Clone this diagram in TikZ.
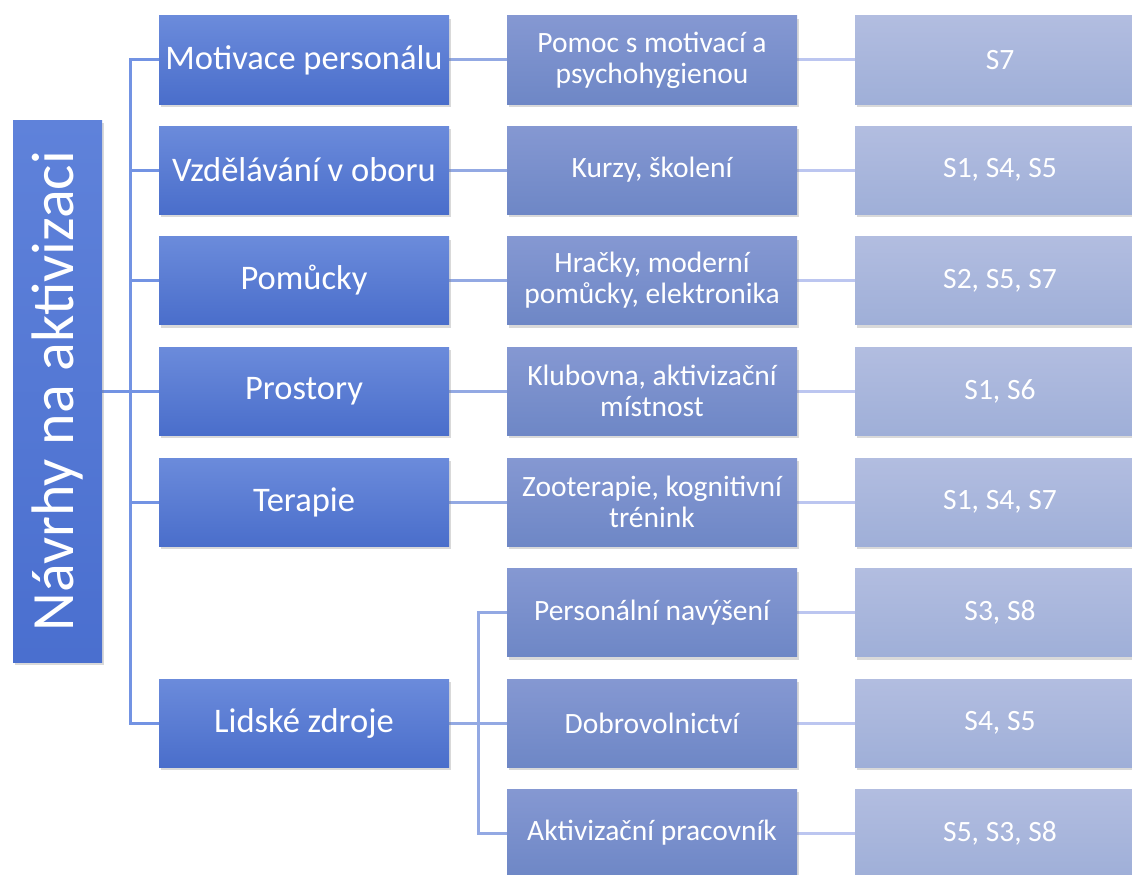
\documentclass[tikz,border=0pt]{standalone}
\usepackage{fontspec}
\setmainfont{Carlito}
\usetikzlibrary{shadows,backgrounds}

\definecolor{rootblue}{HTML}{4A6FCF}
\definecolor{roottop}{HTML}{5F82DA}
\definecolor{cattop}{HTML}{6B8BDB}
\definecolor{catbot}{HTML}{4A6ECB}
\definecolor{subtop}{HTML}{8598D2}
\definecolor{subbot}{HTML}{6E87C6}
\definecolor{reftop}{HTML}{B2BDE0}
\definecolor{refbot}{HTML}{9FAFD8}
\definecolor{trunkline}{HTML}{7393E3}
\definecolor{branchline}{HTML}{93A9E3}
\definecolor{leafline}{HTML}{BCC6F0}

\tikzset{
  box/.style={minimum height=88pt, inner sep=2pt, align=center, text=white,
    drop shadow={opacity=0.3, shadow xshift=2pt, shadow yshift=-3pt}},
  rootbox/.style={box, minimum width=89pt, minimum height=542pt,
    top color=roottop, bottom color=rootblue, font=\fontsize{60}{66}\selectfont},
  catbox/.style={box, minimum width=290pt, top color=cattop, bottom color=catbot,
    font=\fontsize{34.5}{38}\selectfont},
  subbox/.style={box, minimum width=290pt, top color=subtop, bottom color=subbot,
    font=\fontsize{29.5}{31}\selectfont},
  refbox/.style={box, minimum width=290pt, top color=reftop, bottom color=refbot,
    font=\fontsize{29.5}{31}\selectfont},
  trunk/.style={draw=trunkline, line width=3pt},
  branch/.style={draw=branchline, line width=3pt},
  leaf/.style={draw=leafline, line width=3pt}
}

\begin{document}
\begin{tikzpicture}[x=1pt, y=-1pt]
  %%%%% START %%%%%
  \useasboundingbox (0,0) rectangle (1132,875);

  % root
  \node[rootbox] (root) at (57.5,391) {\rotatebox{90}{Návrhy na aktivizaci}};

  % first column
  \node[catbox] (mot) at (304,60) {Motivace personálu};
  \node[catbox] (vzd) at (304,170) {Vzdělávání v oboru};
  \node[catbox] (pom) at (304,280.5) {Pomůcky};
  \node[catbox] (pro) at (304,391) {Prostory};
  \node[catbox] (ter) at (304,502) {Terapie};
  \node[catbox] (lid) at (304,723) {Lidské zdroje};

  % second column
  \node[subbox] (motS) at (652,60) {Pomoc s motivací a\\psychohygienou};
  \node[subbox] (vzdS) at (652,170) {Kurzy, školení};
  \node[subbox] (pomS) at (652,280.5) {Hračky, moderní\\pomůcky, elektronika};
  \node[subbox] (proS) at (652,391) {Klubovna, aktivizační\\místnost};
  \node[subbox] (terS) at (652,502) {Zooterapie, kognitivní\\trénink};
  \node[subbox] (perS) at (652,612.5) {Personální navýšení};
  \node[subbox] (dobS) at (652,723) {Dobrovolnictví};
  \node[subbox] (aktS) at (652,833) {Aktivizační pracovník};

  % third column (runs past the right edge)
  \node[refbox] (motR) at (1000,60) {S7};
  \node[refbox] (vzdR) at (1000,170) {S1, S4, S5};
  \node[refbox] (pomR) at (1000,280.5) {S2, S5, S7};
  \node[refbox] (proR) at (1000,391) {S1, S6};
  \node[refbox] (terR) at (1000,502) {S1, S4, S7};
  \node[refbox] (perR) at (1000,612.5) {S3, S8};
  \node[refbox] (dobR) at (1000,723) {S4, S5};
  \node[refbox] (aktR) at (1000,833) {S5, S3, S8};

  % connectors
  \coordinate (fork) at (130,391);
  \coordinate (hrfork) at (478,723);
  \begin{pgfonlayer}{background}
    \draw[trunk] (root.east) -- (fork);
    \foreach \c in {mot,vzd,pom,pro,ter,lid}
      \draw[trunk] (fork) |- (\c.west);
    \foreach \c in {mot,vzd,pom,pro,ter}
      \draw[branch] (\c.east) -- (\c S.west);
    \draw[branch] (lid.east) -- (hrfork);
    \foreach \c in {per,dob,akt}
      \draw[branch] (hrfork) |- (\c S.west);
    \foreach \c in {mot,vzd,pom,pro,ter,per,dob,akt}
      \draw[leaf] (\c S.east) -- (\c R.west);
  \end{pgfonlayer}
  %%%%% END %%%%%
\end{tikzpicture}
\end{document}
